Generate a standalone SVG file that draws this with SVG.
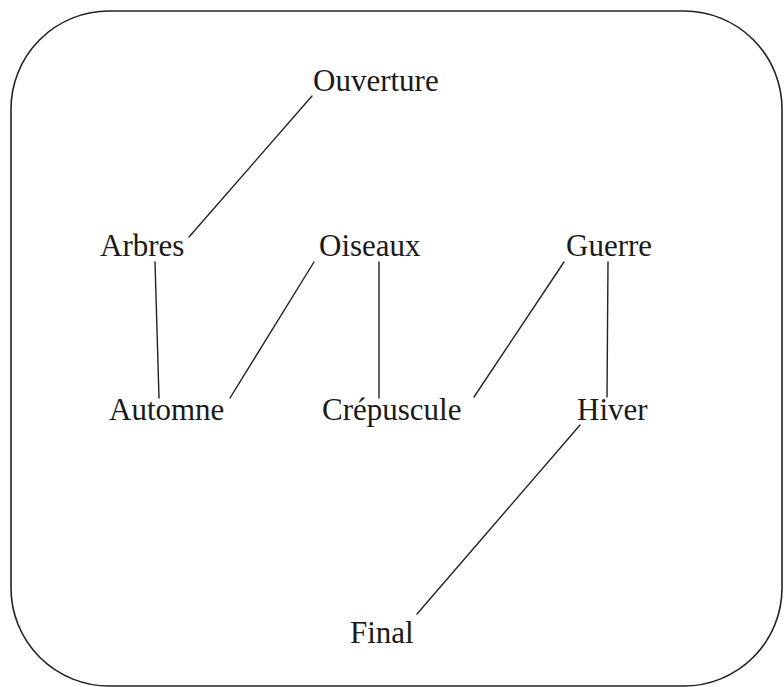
<svg xmlns="http://www.w3.org/2000/svg" width="784" height="687" viewBox="0 0 784 687">
  <style>
    .frame { fill: none; stroke: #222; stroke-width: 1.6; }
    .edge { stroke: #222; stroke-width: 1.4; fill: none; stroke-linecap: round; }
    .label { font-family: "Liberation Serif", "Times New Roman", serif; font-size: 31px; fill: #1a1a1a; }
  </style>
  <rect width="784" height="687" fill="#fff"/>
  <!-- outer rounded frame -->
  <rect class="frame" x="11" y="11" width="771" height="675" rx="98" ry="98"/>

  <g id="connectors">
    <line class="edge" x1="312" y1="96" x2="189" y2="237"/>
    <line class="edge" x1="155" y1="262" x2="159" y2="398"/>
    <line class="edge" x1="314" y1="262" x2="230" y2="398"/>
    <line class="edge" x1="379" y1="262" x2="379" y2="398"/>
    <line class="edge" x1="564" y1="262" x2="474" y2="397"/>
    <line class="edge" x1="608" y1="262" x2="607" y2="397"/>
    <line class="edge" x1="580" y1="425" x2="417" y2="614"/>
  </g>

  <g id="ouverture"><text class="label" x="313" y="91">Ouverture</text></g>
  <g id="arbres"><text class="label" x="100" y="256">Arbres</text></g>
  <g id="oiseaux"><text class="label" x="319" y="256">Oiseaux</text></g>
  <g id="guerre"><text class="label" x="566" y="256">Guerre</text></g>
  <g id="automne"><text class="label" x="109" y="420">Automne</text></g>
  <g id="crepuscule"><text class="label" x="322" y="420">Crépuscule</text></g>
  <g id="hiver"><text class="label" x="577" y="420">Hiver</text></g>
  <g id="final"><text class="label" x="350" y="643">Final</text></g>
</svg>
